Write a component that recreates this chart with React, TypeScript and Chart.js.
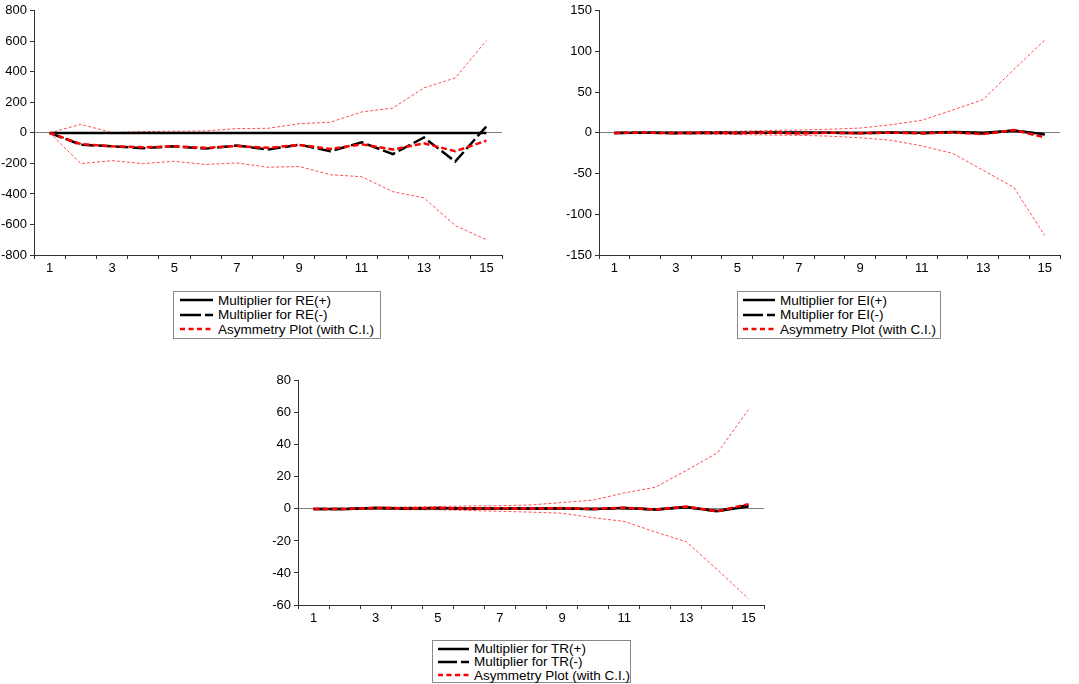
import { useEffect, useRef } from "react";
import { Chart, registerables } from "chart.js";

Chart.register(...registerables);

const horizons = [1, 2, 3, 4, 5, 6, 7, 8, 9, 10, 11, 12, 13, 14, 15];
const xLabels = [1, 3, 5, 7, 9, 11, 13, 15];

// RE panel
const reTicks = [-800, -600, -400, -200, 0, 200, 400, 600, 800];
const rePos = [0, 0, 0, 0, 0, 0, 0, 0, 0, 0, 0, 0, 0, 0, 0];
const reNeg = [0, -77, -88, -100, -88, -103, -83, -109, -77, -120, -62, -139, -30, -188, 43];
const reAsym = [0, -73, -88, -94, -88, -98, -86, -98, -79, -105, -75, -109, -68, -120, -51];
const reUpper = [0, 56, 2, 9, 11, 13, 28, 30, 60, 70, 137, 163, 295, 360, 605];
const reLower = [0, -201, -182, -201, -186, -207, -197, -225, -220, -274, -287, -385, -426, -607, -700];

// EI panel
const eiTicks = [-150, -100, -50, 0, 50, 100, 150];
const eiPos = [0, 0.3, 0.2, 0, 0.3, 0.2, 0.5, 0.3, 0, 0.4, 0.3, 1, 0.2, 2.5, -1.5];
const eiNeg = [0, 0.2, -0.3, 0.2, 0, 0.4, -0.2, 0.3, -0.2, 0.3, -0.3, 0.8, -0.8, 3, -2];
const eiAsym = [0, 0.4, -0.4, 0.3, -0.2, 0.5, -0.6, 0.2, -0.4, 0.3, -0.5, 0.6, -1.5, 3.5, -5.5];
const eiUpper = [0, 0.5, 1, 1.5, 2, 3, 3.5, 4.5, 6, 10, 15.5, 28, 41, 78, 114];
const eiLower = [0, -0.5, -1, -1.5, -2, -2.5, -3, -4, -6, -9, -16, -25, -46, -67, -126];

// TR panel
const trTicks = [-60, -40, -20, 0, 20, 40, 60, 80];
const trPos = [0, 0, 0.5, 0.3, 0.4, 0.3, 0.2, 0.2, 0.3, 0, 0.5, -0.3, 1, -1.3, 1.5];
const trNeg = [0, -0.1, 0.6, 0.2, 0.5, 0.2, 0.3, 0.1, 0.4, -0.1, 0.6, -0.4, 1.2, -1.5, 2.5];
const trAsym = [0, -0.1, 0.7, 0.3, 0.6, 0.2, 0.4, 0.2, 0.5, 0, 0.8, -0.4, 1.5, -1.5, 3];
const trUpper = [0, 0.3, 1, 1.2, 1.5, 1.8, 2, 2.5, 4, 5.5, 10, 13.5, 24, 35, 62];
const trLower = [0, -0.3, 0, -0.5, -0.5, -1, -1.5, -2, -2.7, -5.5, -7.8, -14.4, -20.5, -38, -56];

const FONT = "'Liberation Sans', Arial, Helvetica, sans-serif";

interface PanelProps {
  left: number;
  top: number;
  width: number;
  height: number;
  axisWidth: number;
  padTop: number;
  padRight: number;
  yTicks: number[];
  pos: number[];
  neg: number[];
  asym: number[];
  upper: number[];
  lower: number[];
}

function Panel(p: PanelProps) {
  const canvasRef = useRef<HTMLCanvasElement>(null);

  useEffect(() => {
    if (!canvasRef.current) return;
    const pts = (vals: number[]) => horizons.map((h, i) => ({ x: h, y: vals[i] }));
    const line = { pointRadius: 0, fill: false, tension: 0 };
    const chart = new Chart(canvasRef.current, {
      type: "line",
      data: {
        datasets: [
          { ...line, label: "Asymmetry", data: pts(p.asym), borderColor: "#ff0000", borderWidth: 2.5, borderDash: [6, 3] },
          { ...line, label: "Neg", data: pts(p.neg), borderColor: "#000000", borderWidth: 2.5, borderDash: [13, 4] },
          { ...line, label: "Pos", data: pts(p.pos), borderColor: "#000000", borderWidth: 2.5 },
          { ...line, label: "Upper", data: pts(p.upper), borderColor: "#ff5050", borderWidth: 1, borderDash: [3, 2] },
          { ...line, label: "Lower", data: pts(p.lower), borderColor: "#ff5050", borderWidth: 1, borderDash: [3, 2] },
        ],
      },
      options: {
        animation: false,
        responsive: false,
        maintainAspectRatio: false,
        layout: { padding: { top: p.padTop, right: p.padRight, left: 0, bottom: 0 } },
        plugins: { legend: { display: false }, tooltip: { enabled: false } },
        scales: {
          x: {
            type: "linear",
            min: 0.5,
            max: 15.5,
            ticks: {
              stepSize: 0.5,
              autoSkip: false,
              maxRotation: 0,
              padding: 2,
              color: "#000",
              font: { family: FONT, size: 13 },
              callback: (v) => (xLabels.includes(Number(v)) ? String(v) : ""),
            },
            grid: {
              drawOnChartArea: false,
              drawTicks: true,
              tickLength: 4,
              tickColor: (ctx: any) => (ctx.tick && ctx.tick.value % 1 !== 0 ? "#333" : "transparent"),
            },
            border: { display: true, color: "#333", width: 1 },
            afterFit: (s: any) => {
              s.height = 25;
            },
          },
          y: {
            min: p.yTicks[0],
            max: p.yTicks[p.yTicks.length - 1],
            afterBuildTicks: (s: any) => {
              s.ticks = p.yTicks.map((v) => ({ value: v }));
            },
            ticks: { color: "#000", padding: 3, font: { family: FONT, size: 13 } },
            grid: {
              color: (ctx: any) => (ctx.tick && ctx.tick.value === 0 ? "#808080" : "transparent"),
              tickColor: "#333",
              tickLength: 4,
              lineWidth: 1,
            },
            border: { display: true, color: "#333", width: 1 },
            afterFit: (s: any) => {
              s.width = p.axisWidth;
            },
          },
        },
      },
    });
    return () => chart.destroy();
  }, []);

  return (
    <canvas
      ref={canvasRef}
      width={p.width}
      height={p.height}
      style={{ position: "absolute", left: p.left, top: p.top, width: p.width, height: p.height }}
    />
  );
}

interface LegendProps {
  left: number;
  top: number;
  width: number;
  height: number;
  sampleLeft: number;
  sampleWidth: number;
  rowHeight: number;
  name: string;
}

function Legend(l: LegendProps) {
  const rows = [
    { text: `Multiplier for ${l.name}(+)`, color: "#000", dash: "none", w: 2.5 },
    { text: `Multiplier for ${l.name}(-)`, color: "#000", dash: `${l.sampleWidth - 12} 4 8 0`, w: 2.5 },
    { text: "Asymmetry Plot (with C.I.)", color: "#ff0000", dash: "5 3.5", w: 2.5 },
  ];
  return (
    <div
      style={{
        position: "absolute",
        left: l.left,
        top: l.top,
        width: l.width,
        height: l.height,
        border: "1px solid #888",
        boxSizing: "border-box",
        paddingTop: 1,
        fontFamily: FONT,
        fontSize: 13.5,
        color: "#000",
        background: "#fff",
      }}
    >
      {rows.map((r) => (
        <div key={r.text} style={{ display: "flex", alignItems: "center", height: l.rowHeight, whiteSpace: "nowrap" }}>
          <svg width={l.sampleWidth} height={6} style={{ marginLeft: l.sampleLeft, marginRight: 5, flex: "none" }}>
            <line x1={0} y1={3} x2={l.sampleWidth} y2={3} stroke={r.color} strokeWidth={r.w} strokeDasharray={r.dash} />
          </svg>
          <span>{r.text}</span>
        </div>
      ))}
    </div>
  );
}

export default function App() {
  return (
    <div style={{ position: "absolute", left: 0, top: 0, width: 1079, height: 684, background: "#fff", overflow: "hidden" }}>
      <Panel
        left={0}
        top={0}
        width={512}
        height={280}
        axisWidth={34}
        padTop={7}
        padRight={10}
        yTicks={reTicks}
        pos={rePos}
        neg={reNeg}
        asym={reAsym}
        upper={reUpper}
        lower={reLower}
      />
      <Panel
        left={560}
        top={0}
        width={510}
        height={280}
        axisWidth={39}
        padTop={7}
        padRight={10}
        yTicks={eiTicks}
        pos={eiPos}
        neg={eiNeg}
        asym={eiAsym}
        upper={eiUpper}
        lower={eiLower}
      />
      <Panel
        left={260}
        top={370}
        width={514}
        height={260}
        axisWidth={38}
        padTop={10}
        padRight={10}
        yTicks={trTicks}
        pos={trPos}
        neg={trNeg}
        asym={trAsym}
        upper={trUpper}
        lower={trLower}
      />
      <Legend left={173} top={291} width={208} height={48} sampleLeft={6} sampleWidth={33} rowHeight={14.5} name="RE" />
      <Legend left={737} top={291} width={204} height={48} sampleLeft={5} sampleWidth={32} rowHeight={14.5} name="EI" />
      <Legend left={432} top={640} width={199} height={43} sampleLeft={5} sampleWidth={31} rowHeight={13.3} name="TR" />
    </div>
  );
}
